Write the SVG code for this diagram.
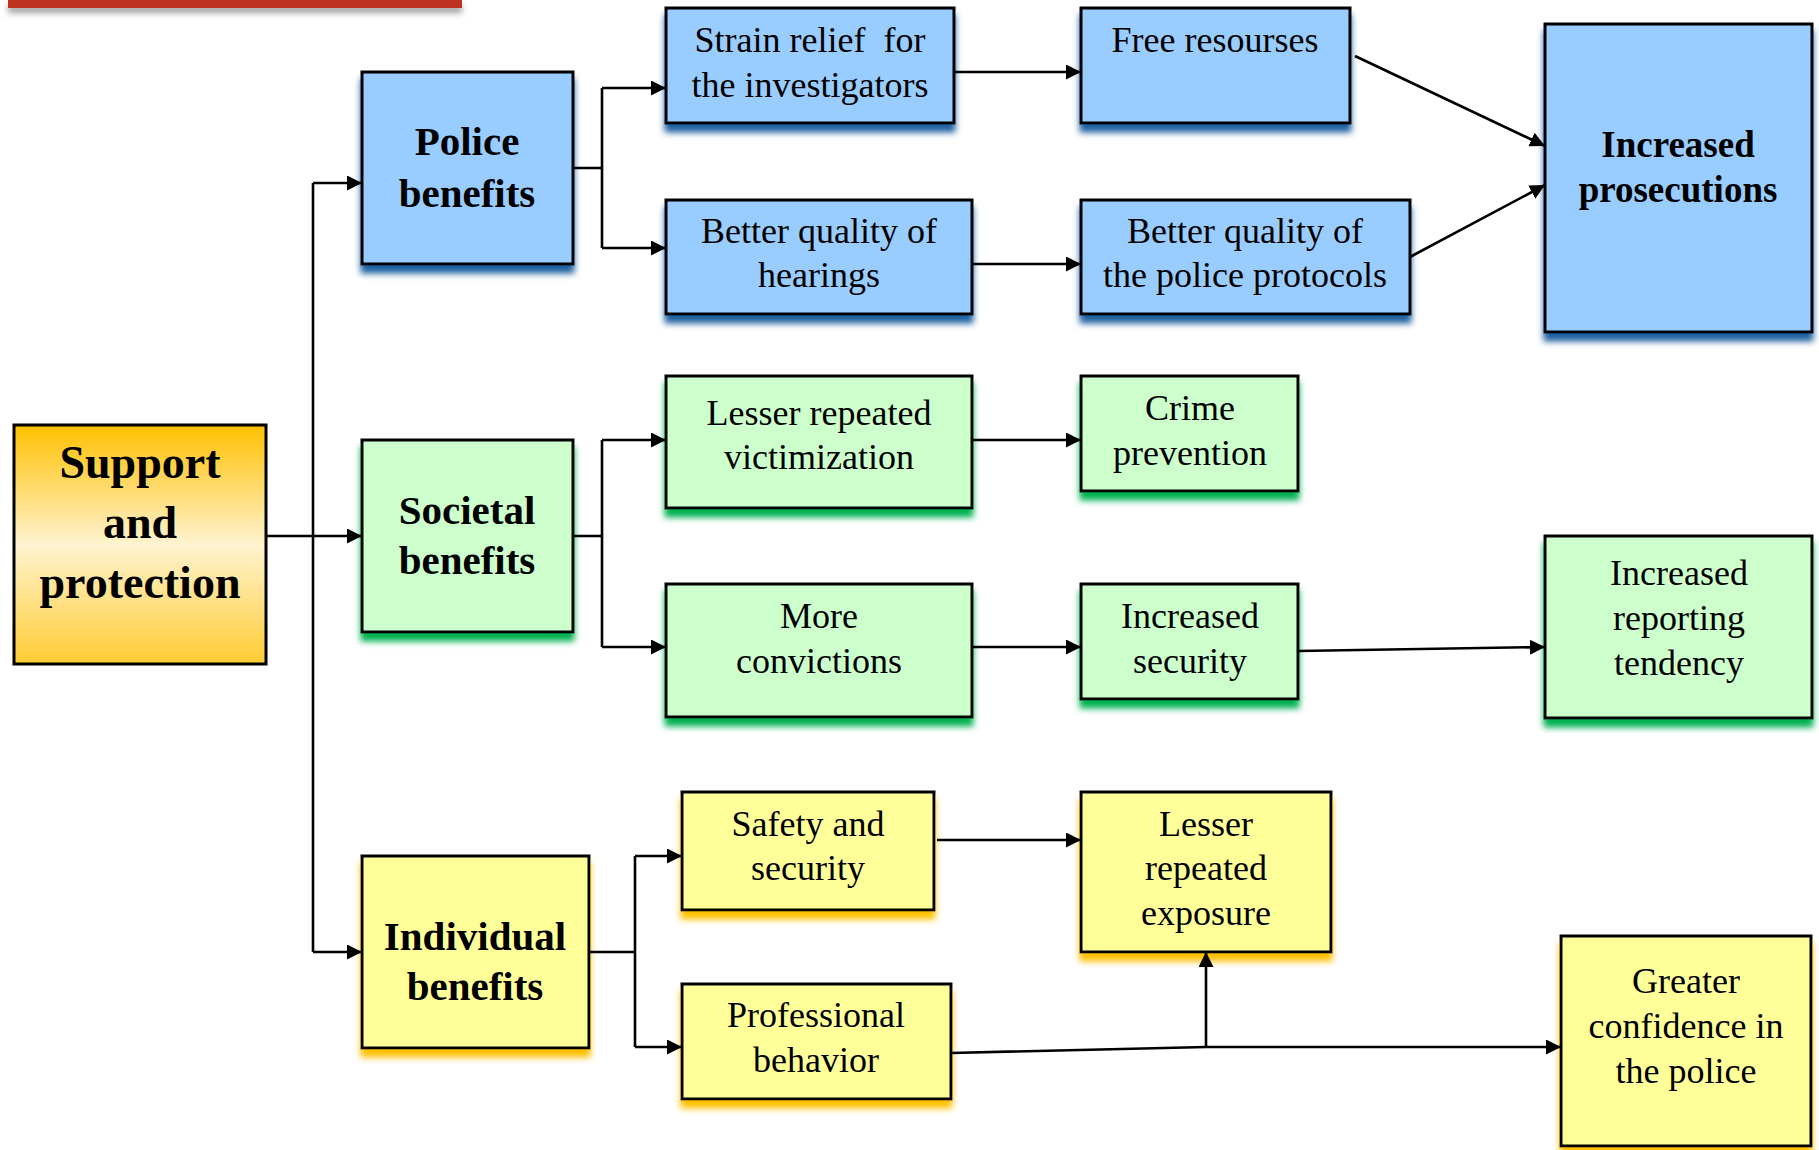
<svg xmlns="http://www.w3.org/2000/svg" width="1819" height="1150" viewBox="0 0 1819 1150">
<defs>
<style>
.box{stroke:#000;stroke-width:3}
.blue{fill:#99CCFF;filter:url(#shB)}
.green{fill:#CCFFCC;filter:url(#shG)}
.yellow{fill:#FFFF99;filter:url(#shY)}
.t{font-family:"Liberation Serif","Times New Roman",serif;font-size:36px;fill:#000;text-anchor:middle}
.b{font-weight:bold;font-size:41px}
.conn path{fill:none;stroke:#000;stroke-width:2.6}
.arr{marker-end:url(#ah)}
</style>
<marker id="ah" viewBox="0 0 10 10" refX="10" refY="5" markerWidth="15" markerHeight="15" markerUnits="userSpaceOnUse" orient="auto"><path d="M0,0 L10,5 L0,10 z" fill="#000"/></marker>
<linearGradient id="gSup" x1="0" y1="0" x2="0" y2="1">
<stop offset="0" stop-color="#FFC000"/>
<stop offset="0.5" stop-color="#FFF3D0"/>
<stop offset="1" stop-color="#FFCC33"/>
</linearGradient>
<filter id="shB" x="-10%" y="-10%" width="120%" height="130%"><feDropShadow dx="0" dy="8" stdDeviation="3" flood-color="#1F5F9F" flood-opacity="1"/></filter>
<filter id="shG" x="-10%" y="-10%" width="120%" height="130%"><feDropShadow dx="0" dy="8" stdDeviation="3" flood-color="#00B050" flood-opacity="1"/></filter>
<filter id="shY" x="-10%" y="-10%" width="120%" height="130%"><feDropShadow dx="0" dy="8" stdDeviation="3" flood-color="#FFC000" flood-opacity="1"/></filter>
<filter id="shR" x="-10%" y="-50%" width="120%" height="300%"><feDropShadow dx="0" dy="5" stdDeviation="3" flood-color="#777" flood-opacity="0.7"/></filter>
</defs>
<rect width="1819" height="1150" fill="#fff"/>
<rect x="8" y="0" width="454" height="8" fill="#BE3223" filter="url(#shR)"/>

<g id="support">
<rect class="box" x="14" y="425" width="252" height="239" fill="url(#gSup)"/>
<text class="t b" x="140" y="478" style="font-size:46px">Support</text>
<text class="t b" x="140" y="538" style="font-size:46px">and</text>
<text class="t b" x="140" y="598" style="font-size:46px">protection</text>
</g>

<g id="police">
<rect class="box blue" x="362" y="72" width="211" height="192"/>
<text class="t b" x="467" y="155">Police</text>
<text class="t b" x="467" y="207">benefits</text>
</g>
<g id="societal">
<rect class="box green" x="362" y="440" width="211" height="192"/>
<text class="t b" x="467" y="524">Societal</text>
<text class="t b" x="467" y="574">benefits</text>
</g>
<g id="individual">
<rect class="box yellow" x="362" y="856" width="227" height="192"/>
<text class="t b" x="475" y="950">Individual</text>
<text class="t b" x="475" y="1000">benefits</text>
</g>

<g id="strain">
<rect class="box blue" x="666" y="8" width="288" height="115"/>
<text class="t" x="810" y="52" xml:space="preserve">Strain relief  for</text>
<text class="t" x="810" y="97">the investigators</text>
</g>
<g id="hearings">
<rect class="box blue" x="666" y="200" width="306" height="114"/>
<text class="t" x="819" y="243">Better quality of</text>
<text class="t" x="819" y="287">hearings</text>
</g>
<g id="free">
<rect class="box blue" x="1081" y="8" width="269" height="115"/>
<text class="t" x="1215" y="52">Free resourses</text>
</g>
<g id="protocols">
<rect class="box blue" x="1081" y="200" width="329" height="114"/>
<text class="t" x="1245" y="243">Better quality of</text>
<text class="t" x="1245" y="287">the police protocols</text>
</g>
<g id="prosecutions">
<rect class="box blue" x="1545" y="24" width="267" height="308"/>
<text class="t b" x="1678" y="157" style="font-size:37px">Increased</text>
<text class="t b" x="1678" y="202" style="font-size:37px">prosecutions</text>
</g>

<g id="victimization">
<rect class="box green" x="666" y="376" width="306" height="132"/>
<text class="t" x="819" y="425">Lesser repeated</text>
<text class="t" x="819" y="469">victimization</text>
</g>
<g id="convictions">
<rect class="box green" x="666" y="584" width="306" height="133"/>
<text class="t" x="819" y="628">More</text>
<text class="t" x="819" y="673">convictions</text>
</g>
<g id="crime">
<rect class="box green" x="1081" y="376" width="217" height="115"/>
<text class="t" x="1190" y="420">Crime</text>
<text class="t" x="1190" y="465">prevention</text>
</g>
<g id="security">
<rect class="box green" x="1081" y="584" width="217" height="115"/>
<text class="t" x="1190" y="628">Increased</text>
<text class="t" x="1190" y="673">security</text>
</g>
<g id="reporting">
<rect class="box green" x="1545" y="536" width="267" height="182"/>
<text class="t" x="1679" y="585">Increased</text>
<text class="t" x="1679" y="630">reporting</text>
<text class="t" x="1679" y="675">tendency</text>
</g>

<g id="safety">
<rect class="box yellow" x="682" y="792" width="252" height="118"/>
<text class="t" x="808" y="836">Safety and</text>
<text class="t" x="808" y="880">security</text>
</g>
<g id="professional">
<rect class="box yellow" x="682" y="984" width="269" height="115"/>
<text class="t" x="816" y="1027">Professional</text>
<text class="t" x="816" y="1072">behavior</text>
</g>
<g id="exposure">
<rect class="box yellow" x="1081" y="792" width="250" height="160"/>
<text class="t" x="1206" y="836">Lesser</text>
<text class="t" x="1206" y="880">repeated</text>
<text class="t" x="1206" y="925">exposure</text>
</g>
<g id="confidence">
<rect class="box yellow" x="1561" y="936" width="250" height="210"/>
<text class="t" x="1686" y="993">Greater</text>
<text class="t" x="1686" y="1038">confidence in</text>
<text class="t" x="1686" y="1083">the police</text>
</g>

<g class="conn">
<path d="M313,183 V952"/>
<path class="arr" d="M313,183 H362"/>
<path class="arr" d="M266,536 H362"/>
<path class="arr" d="M313,952 H362"/>
<path d="M573,168 H602 M602,88 V248"/>
<path class="arr" d="M602,88 H666"/>
<path class="arr" d="M602,248 H666"/>
<path class="arr" d="M954,72 H1081"/>
<path class="arr" d="M972,264 H1081"/>
<path class="arr" d="M1355,56 L1545,146"/>
<path class="arr" d="M1410,257 L1545,185"/>
<path d="M573,536 H602 M602,440 V647"/>
<path class="arr" d="M602,440 H666"/>
<path class="arr" d="M602,647 H666"/>
<path class="arr" d="M972,440 H1081"/>
<path class="arr" d="M972,647 H1081"/>
<path class="arr" d="M1298,651 L1545,647"/>
<path d="M589,952 H635 M635,856 V1047"/>
<path class="arr" d="M635,856 H682"/>
<path class="arr" d="M635,1047 H682"/>
<path class="arr" d="M937,840 H1081"/>
<path class="arr" d="M951,1053 L1206,1047 H1561"/>
<path class="arr" d="M1206,1047 V952"/>
</g>
</svg>
